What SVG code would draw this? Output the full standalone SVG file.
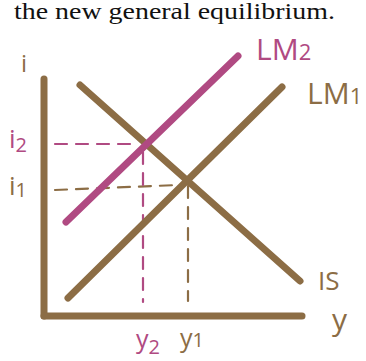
<svg xmlns="http://www.w3.org/2000/svg" width="366" height="361" viewBox="0 0 366 361">
<style>
.br{stroke:#8C6D45;fill:none;stroke-linecap:round}
.pk{stroke:#B04A82;fill:none;stroke-linecap:round}
.thick{stroke-width:7}
.dash{stroke-width:2.2;stroke-dasharray:12 9}
.lb{font-family:"Open Sans","DejaVu Sans",sans-serif;font-weight:400}
.lbr{fill:#8C6D45}
.lpk{fill:#B04A82}
</style>
<rect width="366" height="361" fill="#fff"/>
<text x="14" y="19" font-family="Liberation Serif,serif" font-size="23" fill="#111" textLength="321" lengthAdjust="spacingAndGlyphs">the new general equilibrium.</text>
<g id="connectors">
<line class="br dash" x1="55" y1="190" x2="178" y2="185"/>
<line class="br dash" x1="188" y1="186" x2="188" y2="301"/>
<line class="pk dash" x1="55" y1="144" x2="136" y2="144"/>
<line class="pk dash" x1="143" y1="152" x2="143" y2="302"/>
</g>
<g id="axes">
<line class="br thick" x1="44" y1="79" x2="44" y2="316"/>
<line class="br thick" x1="44" y1="316" x2="302" y2="316"/>
</g>
<g id="IS"><line class="br thick" x1="80" y1="85" x2="300" y2="281"/></g>
<g id="LM1"><line class="br thick" x1="68" y1="298" x2="282" y2="87"/></g>
<g id="LM2"><line class="pk thick" x1="66" y1="222" x2="238" y2="56"/></g>
<g id="labels">
<text class="lb lbr" x="21" y="72" font-size="24">i</text>
<text class="lb lpk" x="9" y="148" font-size="26">i<tspan font-size="20" dy="4">2</tspan></text>
<text class="lb lbr" x="9" y="195" font-size="26">i<tspan font-size="20" dy="2">1</tspan></text>
<text class="lb lpk" x="136" y="348" font-size="25">y<tspan font-size="20" dy="6">2</tspan></text>
<text class="lb lbr" x="180" y="347" font-size="25">y<tspan font-size="20">1</tspan></text>
<text class="lb lbr" x="318" y="290" font-size="26">IS</text>
<text class="lb lbr" x="332" y="330" font-size="30">y</text>
<text class="lb lpk" x="256" y="60" font-size="30">LM<tspan font-size="22">2</tspan></text>
<text class="lb lbr" x="307" y="104" font-size="30">LM<tspan font-size="22">1</tspan></text>
</g>
</svg>
